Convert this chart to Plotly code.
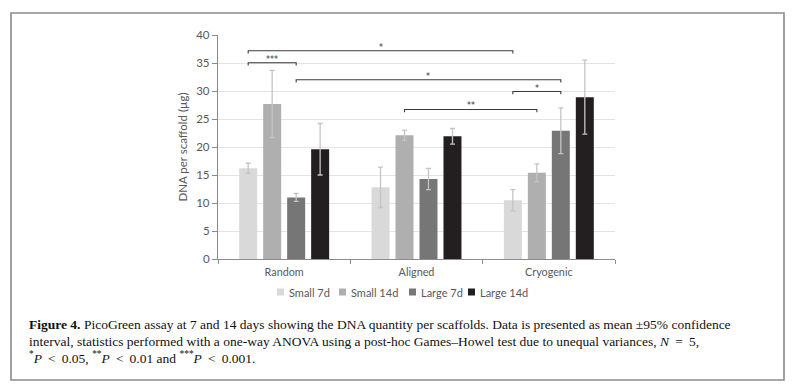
import plotly.graph_objects as go

# ---------------- data ----------------
categories = ["Random", "Aligned", "Cryogenic"]
series_names = ["Small 7d", "Small 14d", "Large 7d", "Large 14d"]
small_7d = [16.2, 12.8, 10.5]
small_14d = [27.7, 22.1, 15.4]
large_7d = [11.0, 14.3, 22.9]
large_14d = [19.6, 21.9, 28.9]
err_small_7d = [0.9, 3.6, 1.9]
err_small_14d = [6.0, 0.9, 1.6]
err_large_7d = [0.7, 1.9, 4.1]
err_large_14d = [4.6, 1.4, 6.6]
y_ticks = [0, 5, 10, 15, 20, 25, 30, 35, 40]

# significance brackets: (group_a, series_a, group_b, series_b, level, label)
brackets = [
    (0, 0, 2, 0, 37.2, "*"),
    (0, 0, 0, 2, 35.05, "***"),
    (0, 2, 2, 2, 32.0, "*"),
    (1, 1, 2, 1, 26.7, "**"),
    (2, 0, 2, 2, 29.9, "*"),
]

TS = "\u2009"
caption_lines = [
    "<b>Figure 4.</b> PicoGreen assay at 7 and 14 days showing the DNA quantity per scaffolds. "
    "Data is presented as mean \u00b195% confidence",
    "interval, statistics performed with a one-way ANOVA using a post-hoc Games\u2013Howel test "
    f"due to unequal variances, <i>N</i>{TS} ={TS} 5,",
    f"<sup>*</sup><i>P</i>{TS} &lt;{TS} 0.05, <sup>**</sup><i>P</i>{TS} &lt;{TS} 0.01 and "
    f"<sup>***</sup><i>P</i>{TS} &lt;{TS} 0.001.",
]

values = [small_7d, small_14d, large_7d, large_14d]
errors = [err_small_7d, err_small_14d, err_large_7d, err_large_14d]
colors = ["#d9d9d9", "#afafaf", "#767676", "#231f20"]

# ---------------- layout geometry ----------------
W, H = 796, 389
L, R, T, B = 218, 181, 35, 130
plot_w = W - L - R
plot_h = H - T - B
BARGAP = 0.275
BARGROUPGAP = 0.25


def px_x(p):
    return (p - L) / plot_w


def px_y(p):
    return (H - B - p) / plot_h


def bar_center(g, s):
    slot = (1 - BARGAP) / len(series_names)
    return g - (1 - BARGAP) / 2 + slot * (s + 0.5)


fig = go.Figure()
for name, vals, errs, col in zip(series_names, values, errors, colors):
    fig.add_trace(go.Bar(
        x=categories, y=vals, name=name, marker=dict(color=col, line=dict(width=0)),
        error_y=dict(type="data", array=errs, visible=True, color="#c4c4c4",
                     thickness=1.3, width=2.5),
        showlegend=False,
    ))

shapes = []
annotations = []
for ga, sa, gb, sb, lvl, lab in brackets:
    xa, xb = bar_center(ga, sa), bar_center(gb, sb)
    drop = 0.5
    shapes.append(dict(type="path", xref="x", yref="y",
                       path=f"M {xa} {lvl - drop} L {xa} {lvl} L {xb} {lvl} L {xb} {lvl - drop}",
                       line=dict(color="#3a3a3a", width=1.1)))
    annotations.append(dict(x=(xa + xb) / 2, y=lvl, xref="x", yref="y", text=lab,
                            showarrow=False, yanchor="bottom", yshift=-3,
                            font=dict(family="DejaVu Sans", size=8, color="#333333")))

# outer frame
shapes.append(dict(type="rect", xref="paper", yref="paper",
                   x0=px_x(11), x1=px_x(784), y0=px_y(380), y1=px_y(13),
                   line=dict(color="#8a8a8a", width=1.6), layer="below"))

# legend (manual, compact)
leg_sq = [277, 339, 409, 468]
leg_y = 292
for xs, name, col in zip(leg_sq, series_names, colors):
    shapes.append(dict(type="rect", xref="paper", yref="paper",
                       x0=px_x(xs), x1=px_x(xs + 7), y0=px_y(leg_y + 3.5), y1=px_y(leg_y - 3.5),
                       fillcolor=col, line=dict(width=0)))
    annotations.append(dict(x=px_x(xs + 10), y=px_y(leg_y), xref="paper", yref="paper",
                            text=name, showarrow=False, xanchor="left", yanchor="middle",
                            font=dict(family="Lato", size=11, color="#595959")))

# caption
cap_y = [324, 341, 357]
for txt, cy in zip(caption_lines, cap_y):
    annotations.append(dict(x=px_x(27), y=px_y(cy), xref="paper", yref="paper", text=txt,
                            showarrow=False, xanchor="left", yanchor="middle",
                            font=dict(family="Liberation Serif", size=13.5, color="#111111")))

fig.update_layout(
    width=W, height=H,
    margin=dict(l=L, r=R, t=T, b=B, pad=0),
    paper_bgcolor="white", plot_bgcolor="white",
    barmode="group", bargap=BARGAP, bargroupgap=BARGROUPGAP,
    shapes=shapes, annotations=annotations,
    showlegend=False,
    xaxis=dict(showline=True, linecolor="#8c8c8c", linewidth=1.3, ticks="outside",
               tickson="boundaries", ticklen=4, tickcolor="#8c8c8c", showgrid=False,
               ticklabelstandoff=3,
               tickfont=dict(family="Lato", size=10.8, color="#595959")),
    yaxis=dict(range=[0, 40], tickvals=y_ticks, showline=True, linecolor="#8c8c8c",
               linewidth=1.3, ticks="outside", ticklen=5, tickcolor="#8c8c8c",
               showgrid=True, gridcolor="#e4e4e4", gridwidth=1.2, zeroline=False,
               tickfont=dict(family="Lato", size=11.5, color="#595959"),
               title=dict(text="DNA per scaffold (\u00b5g)", standoff=6,
                          font=dict(family="Lato", size=11.5, color="#595959"))),
)

fig.write_html("out.html", config={"displayModeBar": False},
               post_script="document.body.style.margin='0';")
